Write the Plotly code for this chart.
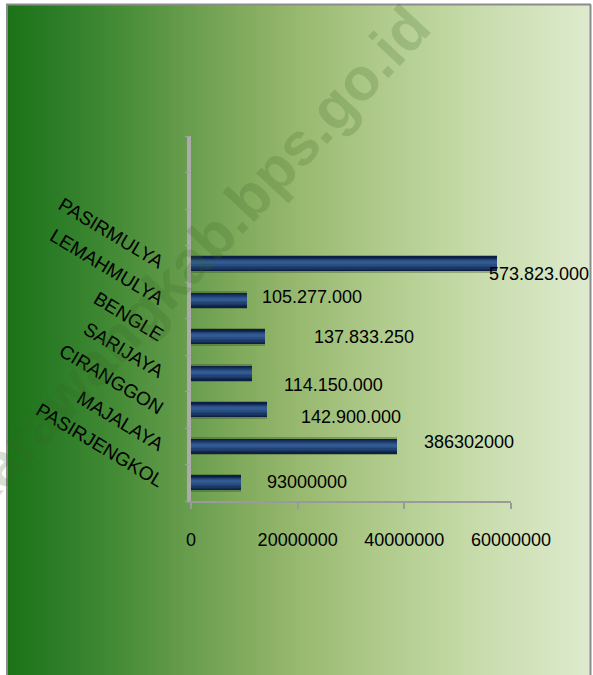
import plotly.graph_objects as go

# Villages (top to bottom) and their values
villages = ["PASIRMULYA", "LEMAHMULYA", "BENGLE", "SARIJAYA",
            "CIRANGGON", "MAJALAYA", "PASIRJENGKOL"]
values = [573823000, 105277000, 137833250, 114150000,
          142900000, 386302000, 93000000]
value_labels = ["573.823.000", "105.277.000", "137.833.250", "114.150.000",
                "142.900.000", "386302000", "93000000"]
tick_labels = ["0", "20000000", "40000000", "60000000"]

# the value axis is printed in units of ten
AXIS_UNIT = 10
tick_vals = [int(t) * AXIS_UNIT for t in tick_labels]

# label nudges in px (right, down) relative to each bar end
label_dx = [-10, 13, 47, 30, 32, 25, 24]
label_dy = [10, -3, 0, 12, 7, -4, -1]

W, H = 593, 675
L, R, T, B = 191, 511, 136, 501
FONT = "Arial, Liberation Sans, sans-serif"


def px_x(x):
    return (x - L) / (R - L)


def px_y(y):
    return (B - y) / (B - T)


# background gradient stops (pixel x, rgb)
stops = [(8, (27, 115, 23)), (60, (45, 125, 40)), (120, (70, 140, 55)),
         (180, (100, 155, 75)), (240, (128, 170, 92)), (300, (152, 185, 112)),
         (360, (170, 198, 132)), (420, (185, 210, 152)), (480, (200, 220, 172)),
         (540, (212, 228, 190)), (590, (222, 234, 206))]


def grad(x):
    for (x0, c0), (x1, c1) in zip(stops, stops[1:]):
        if x0 <= x <= x1:
            t = (x - x0) / (x1 - x0)
            return "rgb(%d,%d,%d)" % tuple(round(a + (b - a) * t) for a, b in zip(c0, c1))
    return "rgb(%d,%d,%d)" % stops[-1][1]


shapes = []
for x in range(8, 590, 2):
    shapes.append(dict(type="rect", xref="paper", yref="paper", layer="below",
                       x0=px_x(x), x1=px_x(x + 2.6), y0=px_y(H + 5), y1=px_y(5),
                       line=dict(width=0), fillcolor=grad(x + 1)))
# frame
for x0, y0, x1, y1 in [(7, 4.5, 7, H + 5), (6, 4.5, 591, 4.5), (590.5, 4.5, 590.5, H + 5)]:
    shapes.append(dict(type="line", xref="paper", yref="paper", layer="below",
                       x0=px_x(x0), x1=px_x(x1), y0=px_y(y0), y1=px_y(y1),
                       line=dict(color="#8c8c8c", width=2)))

order = villages[::-1]

fig = go.Figure()
# cylinder look: stacked overlays from soft shadow to highlight
layers = [
    dict(width=0.48, offset=None, color="rgba(35,60,25,0.30)"),
    dict(width=0.40, offset=None, color="#0d2043"),
    dict(width=0.34, offset=None, color="#132b55"),
    dict(width=0.28, offset=None, color="#1a3765"),
    dict(width=0.22, offset=-0.09, color="#214374"),
    dict(width=0.15, offset=-0.05, color="#294e83"),
    dict(width=0.08, offset=-0.01, color="#335a90"),
]
for ly in layers:
    kw = dict(offset=ly["offset"]) if ly["offset"] is not None else {}
    fig.add_trace(go.Bar(x=values, y=villages, orientation="h", width=ly["width"],
                         marker=dict(color=ly["color"], line=dict(width=0)),
                         hoverinfo="skip", showlegend=False, **kw))

# boundary tick marks on the category axis
fig.add_trace(go.Scatter(x=[], y=[], yaxis="y2", showlegend=False, hoverinfo="skip"))

annotations = []
for v, name, txt, dx, dy in zip(values, villages, value_labels, label_dx, label_dy):
    annotations.append(dict(x=v, y=name, text=txt, showarrow=False, xanchor="left",
                            yanchor="middle", xshift=dx, yshift=-dy,
                            font=dict(family=FONT, size=18, color="#000000")))

# site watermark
annotations.append(dict(xref="paper", yref="paper", x=px_x(192), y=px_y(258),
                        xanchor="center", yanchor="middle",
                        text="<b>karawangkab.bps.go.id</b>", showarrow=False,
                        textangle=-47,
                        font=dict(family=FONT, size=60, color="rgba(55,100,35,0.20)")))

fig.update_layout(
    width=W, height=H,
    margin=dict(l=L, r=W - R, t=T, b=H - B, pad=0),
    paper_bgcolor="#ffffff", plot_bgcolor="rgba(0,0,0,0)",
    barmode="overlay", bargap=0,
    shapes=shapes, annotations=annotations,
    xaxis=dict(range=[0, 600000000], tickmode="array", tickvals=tick_vals,
               ticktext=tick_labels, ticks="outside", ticklen=6, tickwidth=2,
               tickcolor="#9a9a9a", showline=True, linecolor="#9a9a9a", linewidth=2,
               showgrid=False, zeroline=False, ticklabelstandoff=15,
               tickfont=dict(family=FONT, size=18, color="#000000")),
    yaxis=dict(type="category", categoryorder="array", categoryarray=order,
               range=[-0.5, 9.5], showline=True, linecolor="#ababab", linewidth=4,
               ticks="", tickangle=31, showgrid=False, zeroline=False,
               ticklabelstandoff=20,
               tickfont=dict(family=FONT, size=19, color="#000000")),
    yaxis2=dict(overlaying="y", side="left", range=[-0.5, 9.5], tickmode="linear",
                tick0=-0.5, dtick=1, ticks="outside", ticklen=5, tickwidth=1,
                tickcolor="#a0a0a0", showticklabels=False, showgrid=False,
                zeroline=False, showline=False),
)

fig.write_html("out.html")
